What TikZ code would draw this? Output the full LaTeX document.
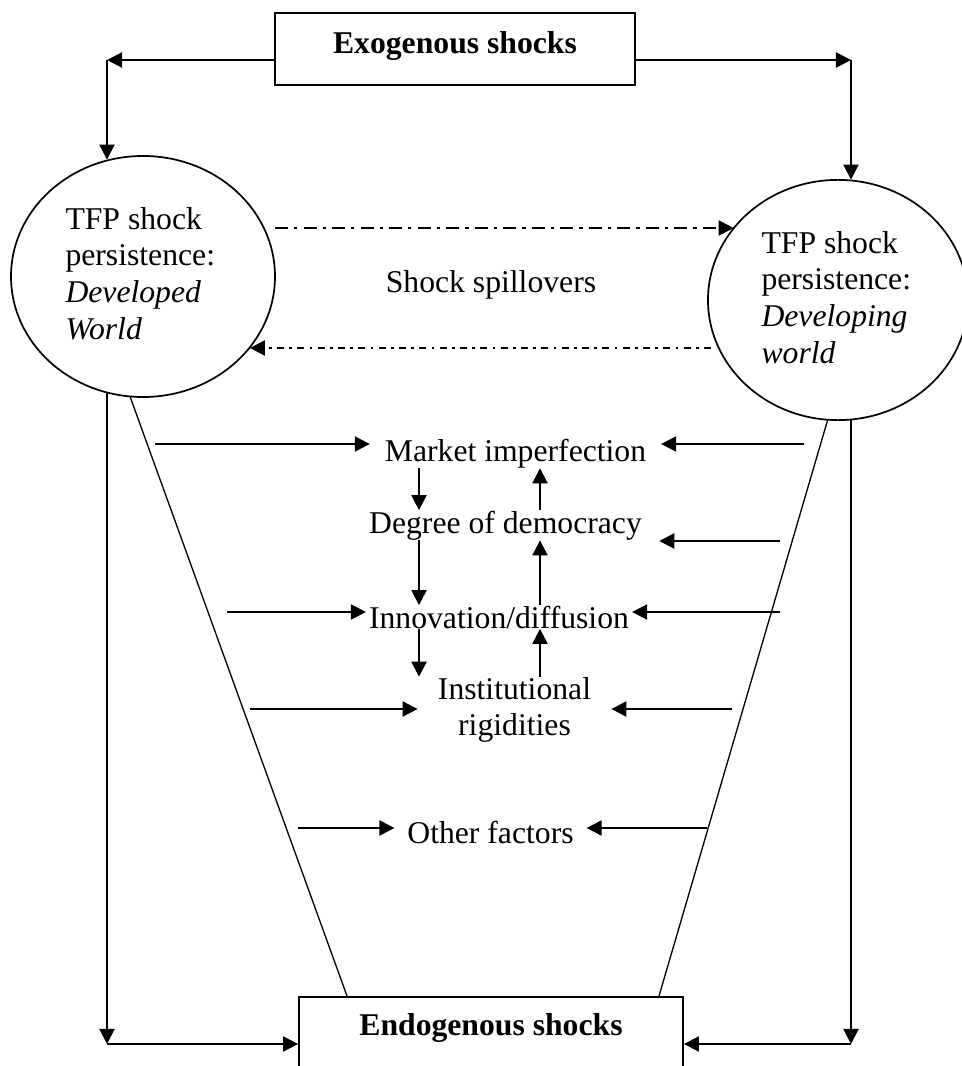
\documentclass[tikz,border=0pt]{standalone}
\usepackage{fontspec}
\setmainfont{Liberation Serif}
\usetikzlibrary{arrows.meta,positioning,shapes.geometric}

\begin{document}
\begin{tikzpicture}[
    x=0.3788pt, y=-0.3788pt,
    font=\fontsize{12}{13.9}\selectfont,
    shockbox/.style={rectangle, draw=black, line width=0.65pt, anchor=north, text height=8.3pt, font=\fontsize{12}{13.9}\selectfont\bfseries},
    world/.style={ellipse, draw=black, line width=0.65pt, minimum width=100pt, minimum height=91.3pt},
    worldtext/.style={align=left, inner sep=0pt, anchor=north west},
    factor/.style={inner xsep=5.5pt, inner ysep=0pt, anchor=base},
    arrow/.style={-{Triangle[length=5.7pt,width=5.7pt]}, line width=0.75pt},
    spillfwd/.style={arrow, dash pattern=on 5pt off 2.3pt on 1.2pt off 2.3pt},
    spillback/.style={arrow, dash pattern=on 2.7pt off 2pt on 1pt off 2pt},
    funnel/.style={line width=0.5pt}
]
\useasboundingbox (0,0) rectangle (961,1066);

% shock boxes
\node[shockbox, minimum width=136.4pt, inner ysep=7.2pt, text depth=4.6pt] (exo) at (455,12) {Exogenous shocks};
\node[shockbox, minimum width=145.5pt, inner ysep=6.5pt, text depth=20pt] (endo) at (491,996) {Endogenous shocks};

% the two worlds
\node[world] (dvd) at (143,276.5) {};
\node[world, minimum width=98.5pt, minimum height=91pt] (dev) at (838,300) {};
\node[worldtext] (dvdtxt) at (65,206.5) {TFP shock\\persistence:\\\textit{Developed}\\\textit{World}};
\node[worldtext] (devtxt) at (761,230.5) {TFP shock\\persistence:\\\textit{Developing}\\\textit{world}};
\node[factor] (spill) at (491,293) {Shock spillovers};

% channels
\node[factor] (market) at (515.5,461) {Market imperfection};
\node[factor, inner xsep=6.4pt] (democ) at (505.5,533) {Degree of democracy};
\node[factor, inner xsep=1pt] (innov) at (499,628) {Innovation/diffusion};
\node[factor, anchor=center, align=center, inner xsep=7.5pt] (instit) at (514.5,710) {Institutional\\rigidities};
\node[factor, inner xsep=4.7pt] (other) at (490.5,843) {Other factors};

% free ends
\coordinate (lcol) at (419,0);
\coordinate (rcol) at (540,0);
\coordinate (topL) at (107,60);
\coordinate (topR) at (851,60);
\coordinate (botL) at (107,1044);
\coordinate (botR) at (851,1044);
\coordinate (spillA) at (275,228);
\coordinate (spillB) at (711,348);
\coordinate (mL) at (155,444);
\coordinate (mR) at (804,444);
\coordinate (dR) at (780,541);
\coordinate (iL) at (227,612);
\coordinate (iR) at (780,612);
\coordinate (rL) at (250,709);
\coordinate (rR) at (732,709);
\coordinate (oL) at (298,828);
\coordinate (oR) at (707,828);
\coordinate (funL) at (347,996);
\coordinate (funR) at (659,996);

% exogenous shocks
\draw[arrow] (topL -| exo.west) -- (topL);
\draw[arrow] (topL) -- (topL |- dvd.107);
\draw[arrow] (topR -| exo.east) -- (topR);
\draw[arrow] (topR) -- (topR |- dev.84);

% spillovers
\draw[spillfwd] (spillA) -- (spillA -| dev.145);
\draw[spillback] (spillB) -- (spillB -| dvd.-34);

% funnel
\draw[funnel] (dvd.-96) -- (funL);
\draw[funnel] (dev.-95) -- (funR);

% endogenous shocks
\draw[arrow] (botL |- dvd.-107) -- (botL);
\draw[arrow] (botL) -- (botL -| endo.west);
\draw[arrow] (botR |- dev.-84) -- (botR);
\draw[arrow] (botR) -- (botR -| endo.east);

% into the channels
\draw[arrow] (mL) -- (mL -| market.west);
\draw[arrow] (mR) -- (mR -| market.east);
\draw[arrow] (dR) -- (dR -| democ.east);
\draw[arrow] (iL) -- (iL -| innov.west);
\draw[arrow] (iR) -- (iR -| innov.east);
\draw[arrow] (rL) -- (rL -| instit.west);
\draw[arrow] (rR) -- (rR -| instit.east);
\draw[arrow] (oL) -- (oL -| other.west);
\draw[arrow] (oR) -- (oR -| other.east);

% between the channels
\draw[arrow] (lcol |- market.south) -- (lcol |- democ.north);
\draw[arrow] (lcol |- democ.south) -- (lcol |- innov.north);
\draw[arrow] (lcol |- innov.south) -- (lcol |- instit.north);
\draw[arrow] (rcol |- democ.north) -- (rcol |- market.south);
\draw[arrow] (rcol |- innov.north) -- (rcol |- democ.south);
\draw[arrow] (rcol |- instit.north) -- (rcol |- innov.south);
\end{tikzpicture}
\end{document}
